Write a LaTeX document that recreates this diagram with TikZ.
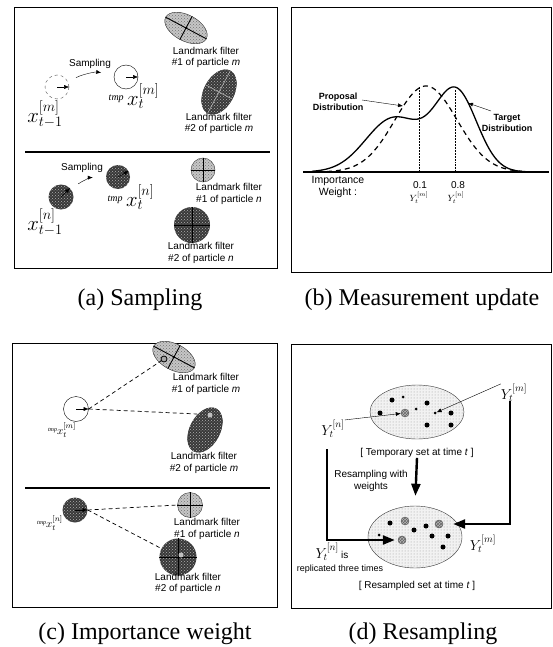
\documentclass[tikz,border=0pt]{standalone}
\usepackage{fontspec}
\setmainfont{Liberation Serif}
\setsansfont{Liberation Sans}
\usetikzlibrary{arrows.meta,patterns,shapes.geometric,calc}

\tikzset{
  panel/.style={draw=black, line width=0.8pt},
  sepline/.style={line width=1.1pt},
  lab/.style={font=\sffamily\fontsize{10}{11.5}\selectfont, align=center, inner sep=0pt},
  blab/.style={font=\sffamily\bfseries\fontsize{9}{10.5}\selectfont, align=center, inner sep=0pt},
  captxt/.style={font=\fontsize{24}{28}\selectfont, inner sep=0pt},
  bigmath/.style={font=\fontsize{20}{22}\selectfont, inner sep=0pt},
  midmath/.style={font=\fontsize{14}{16}\selectfont, inner sep=0pt},
  smallmath/.style={font=\fontsize{11}{13}\selectfont, inner sep=0pt},
  tinymath/.style={font=\fontsize{9}{10}\selectfont, inner sep=0pt},
  tip/.style={-{Latex[length=5pt,width=4pt]}},
  fat/.style={line width=2.4pt, -{Triangle[length=12pt,width=9pt]}},
  lightfill/.style={fill=gray!45, postaction={pattern=crosshatch dots, pattern color=black!55}},
  darkfill/.style={fill=black!78, postaction={pattern=crosshatch dots, pattern color=gray!60}},
  particle/.style={circle, inner sep=0pt, minimum size=#1},
  landmark/.style={ellipse, draw=black!85, inner sep=0pt},
  setfill/.style={fill=gray!10, postaction={pattern=dots, pattern color=black!40}},
  bigdot/.style={circle, fill=black, inner sep=0pt, minimum size=5pt},
  smalldot/.style={circle, fill=black, inner sep=0pt, minimum size=3pt},
  hatchdot/.style={circle, draw=black!70, fill=gray!55, inner sep=0pt, minimum size=8pt,
                   postaction={pattern=crosshatch, pattern color=black!60}},
  linkline/.style={dashed, dash pattern=on 4pt off 3pt, line width=0.7pt},
}

\begin{document}
\begin{tikzpicture}[x=1pt, y=-1pt]
\useasboundingbox (0,0) rectangle (553,647);

% ---------------- (a) Sampling ----------------
\draw[panel] (14,7) rectangle (277,268);
\draw[sepline] (25,152) -- (270,152);

% particle m
\node[particle=24pt, draw=black!70, dashed] (am0) at (57,87) {};
\draw[tip] (am0.center) -- (am0.east);
\node[bigmath] (am0l) at (45,114) {$x_{t-1}^{[m]}$};
\node[particle=24pt, draw=black] (am1) at (126,77) {};
\draw[tip] (am1.center) -- (am1.east);
\node[bigmath] (am1l) at (134,96) {\raisebox{5pt}{\fontsize{10}{11}\selectfont\itshape tmp}\,$x_t^{[m]}$};
\node[lab] (asm) at (90,64) {Sampling};
\draw[tip, shorten <=9pt, shorten >=13pt] (am0) to[bend left=18] (am1);

\node[landmark, lightfill, minimum width=46pt, minimum height=26pt, rotate=-28] (aml1) at (186,28) {};
\draw[line width=0.9pt] (aml1.west) -- (aml1.east) (aml1.north) -- (aml1.south);
\node[lab] (aml1t) at (206,57.5) {Landmark filter\\\#1 of particle \textit{m}};
\node[landmark, darkfill, minimum width=48pt, minimum height=30pt, rotate=62] (aml2) at (219,92) {};
\draw[gray!60, line width=0.6pt] (aml2.west) -- (aml2.east) (aml2.north) -- (aml2.south);
\node[lab] (aml2t) at (219,123.5) {Landmark filter\\\#2 of particle \textit{m}};

% particle n
\node[particle=25pt, darkfill] (an0) at (61,197) {};
\draw[tip] (an0.center) -- (an0.north east);
\node[bigmath] (an0l) at (45,222) {$x_{t-1}^{[n]}$};
\node[particle=24pt, darkfill] (an1) at (118,177) {};
\draw[tip] (an1.center) -- (an1.30);
\node[bigmath] (an1l) at (131,197) {\raisebox{5pt}{\fontsize{10}{11}\selectfont\itshape tmp}\,$x_t^{[n]}$};
\node[lab] (asn) at (82,168) {Sampling};
\draw[tip, shorten <=9pt, shorten >=13pt] (an0) to[bend left=18] (an1);

\node[particle=24pt, lightfill, draw=black!80] (anl1) at (203,170) {};
\draw[line width=0.9pt] (anl1.west) -- (anl1.east) (anl1.north) -- (anl1.south);
\node[lab] (anl1t) at (229,194) {Landmark filter\\\#1 of particle \textit{n}};
\node[particle=36pt, darkfill] (anl2) at (192,225) {};
\draw[black, line width=0.6pt] (anl2.west) -- (anl2.east) (anl2.north) -- (anl2.south);
\node[lab] (anl2t) at (201,253) {Landmark filter\\\#2 of particle \textit{n}};

% ---------------- (b) Measurement update ----------------
\draw[panel] (291,7) rectangle (551,272);
\coordinate (base0) at (303,172);
\coordinate (base1) at (549,172);
\draw[line width=1.2pt] (base0) -- (base1);
% proposal distribution
\draw[line width=1.2pt, dashed, dash pattern=on 5pt off 4pt]
  plot[domain=318:522, samples=120, smooth]
  (\x, {172 - 86*exp(-0.5*((\x-426)/31)^2)});
% target distribution
\draw[line width=1.3pt]
  plot[domain=312:528, samples=140, smooth]
  (\x, {172 - 54*exp(-0.5*((\x-394)/28)^2) - 80*exp(-0.5*((\x-456)/21)^2)});
\coordinate (v1t) at (419,87);
\coordinate (v1b) at (419,172);
\coordinate (v2t) at (455,90);
\coordinate (v2b) at (455,172);
\draw[densely dotted, line width=0.5pt] (v1t) -- (v1b) (v2t) -- (v2b);

\node[blab] (prop) at (338,102) {Proposal\\Distribution};
\coordinate (propc) at (403,106);
\draw[tip] (362,100) -- (propc);
\node[blab] (targ) at (507,123) {Target\\Distribution};
\coordinate (targc) at (468,103);
\draw[tip] (491,111) -- (targc);

\node[lab, font=\sffamily\fontsize{10.5}{12}\selectfont] (iw) at (338,187) {Importance\\Weight :};
\node[lab] (w1) at (420,185) {0.1};
\node[tinymath] (y1) at (419,198) {$Y_t^{[m]}$};
\node[lab] (w2) at (458,185) {0.8};
\node[tinymath] (y2) at (456,198) {$Y_t^{[n]}$};

% ---------------- (c) Importance weight ----------------
\draw[panel] (12,343) rectangle (277,607);
\draw[sepline] (25,488) -- (270,488);

\node[particle=25pt, draw=black] (cm) at (76,409) {};
\draw[tip] (cm.center) -- (cm.east);
\node[smallmath] (cml) at (62,430) {\raisebox{3pt}{\fontsize{6}{7}\selectfont\itshape tmp}$x_t^{[m]}$};

\node[landmark, lightfill, minimum width=46pt, minimum height=26pt, rotate=-28] (cml1) at (174,357) {};
\draw[line width=0.9pt] (cml1.west) -- (cml1.east) (cml1.north) -- (cml1.south);
\node[particle=6pt, draw=black, line width=0.8pt, fill=gray!70] (cmk1) at (164,359) {};
\node[lab] (cml1t) at (206,384) {Landmark filter\\\#1 of particle \textit{m}};
\node[landmark, darkfill, minimum width=48pt, minimum height=30pt, rotate=62] (cml2) at (205,430) {};
\node[particle=5pt, fill=gray!50] (cmk2) at (210,415) {};
\coordinate (cml2e) at (197,414);
\node[lab] (cml2t) at (204,463) {Landmark filter\\\#2 of particle \textit{m}};
\draw[linkline] (cm.east) -- (cmk1);
\draw[linkline] (cm.east) -- (cml2e);

\node[particle=25pt, darkfill] (cn) at (75,510) {};
\draw[tip] (cn.center) -- (cn.east);
\node[smallmath] (cnl) at (50,523) {\raisebox{3pt}{\fontsize{6}{7}\selectfont\itshape tmp}$x_t^{[n]}$};

\node[particle=25pt, lightfill, draw=black!80] (cnl1) at (190,505) {};
\draw[line width=0.9pt] (cnl1.west) -- (cnl1.east) (cnl1.north) -- (cnl1.south);
\node[lab] (cnl1t) at (207,529) {Landmark filter\\\#1 of particle \textit{n}};
\node[particle=37pt, darkfill] (cnl2) at (178,557) {};
\draw[black, line width=0.6pt] (cnl2.west) -- (cnl2.east) (cnl2.north) -- (cnl2.south);
\node[particle=5pt, fill=gray!50] (cnk2) at (181,555) {};
\node[lab] (cnl2t) at (188,583.5) {Landmark filter\\\#2 of particle \textit{n}};
\draw[linkline] (cn.east) -- (cnl1.west);
\draw[linkline] (cn.east) -- (cnl2.153);

% ---------------- (d) Resampling ----------------
\draw[panel] (291,344) rectangle (551,608);

% temporary set
\node[ellipse, draw=black!80, setfill, minimum width=94pt, minimum height=54pt] (tset) at (417,412) {};
\node[bigdot] (t1) at (392,400) {};
\node[smalldot] (t2) at (403,397) {};
\node[bigdot] (t3) at (427,403) {};
\node[bigdot] (t4) at (380,413) {};
\node[hatchdot] (tn) at (405,413) {};
\node[smalldot] (t5) at (416,409) {};
\node[smalldot] (tm) at (435,413) {};
\node[bigdot] (t6) at (451,413) {};
\node[bigdot] (t7) at (427,425) {};
\node[bigdot] (t8) at (451,425) {};
\node[lab] (tlab) at (417,453) {[ Temporary set at time \textit{t} ]};

\node[midmath] (yn) at (333,429) {$Y_t^{[n]}$};
\node[midmath] (ym) at (514,393) {$Y_t^{[m]}$};
\draw[tip] (yn.north east) -- (tn);
\draw[tip] (ym.north west) -- (tm);

% resampled set
\node[ellipse, draw=black!80, setfill, minimum width=94pt, minimum height=62pt] (rset) at (415,537) {};
\node[bigdot] (r1) at (390,523) {};
\node[hatchdot] (r2) at (405,521) {};
\node[bigdot] (r3) at (414,530) {};
\node[bigdot] (r4) at (426,526) {};
\node[hatchdot] (r5) at (439,524) {};
\node[bigdot] (r6) at (432,536) {};
\node[bigdot] (r7) at (448,536) {};
\node[smalldot] (r8) at (379,535) {};
\node[hatchdot] (r9) at (402,540) {};
\node[bigdot] (r10) at (443,547) {};
\node[lab] (rlab) at (417,586) {[ Resampled set at time \textit{t} ]};

% resampling arrows
\coordinate (ls) at (327,449);
\coordinate (rs) at (510,401);
\draw[fat, shorten >=3pt] (ls) |- (r9.west);
\draw[fat, shorten >=10pt] (rs) |- (r5.east);
\draw[fat, shorten >=10pt] (tlab.south) -- (rset.north);
\node[lab] (rwl) at (371,481) {Resampling with\\weights};

\node[midmath] (yn2) at (332,552) {$Y_t^{[n]}$\,{\sffamily\fontsize{10}{11}\selectfont is}};
\node[lab, font=\sffamily\fontsize{9}{10}\selectfont] (repl) at (340,569) {replicated three times};
\node[midmath] (ym2) at (483,544) {$Y_t^{[m]}$};

% ---------------- captions ----------------
\node[captxt] (capa) at (140,300) {(a) Sampling};
\node[captxt] (capb) at (422,300) {(b) Measurement update};
\node[captxt] (capc) at (145,634) {(c) Importance weight};
\node[captxt] (capd) at (423,634) {(d) Resampling};
\end{tikzpicture}
\end{document}
